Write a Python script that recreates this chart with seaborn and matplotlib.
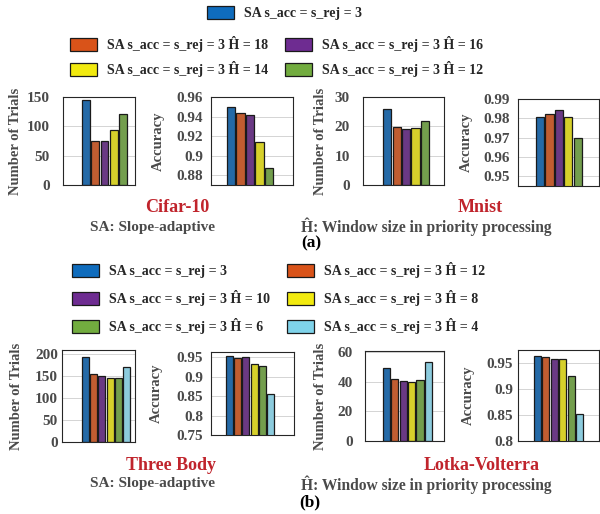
import matplotlib
matplotlib.use("Agg")
import matplotlib.pyplot as plt
import pandas as pd
import seaborn as sns
from matplotlib.patches import Patch
from matplotlib.ticker import FuncFormatter

# ---- data ----
top_series = ["SA s_acc = s_rej = 3",
              "SA s_acc = s_rej = 3 Ĥ = 18",
              "SA s_acc = s_rej = 3 Ĥ = 16",
              "SA s_acc = s_rej = 3 Ĥ = 14",
              "SA s_acc = s_rej = 3 Ĥ = 12"]
bottom_series = ["SA s_acc = s_rej = 3",
                 "SA s_acc = s_rej = 3 Ĥ = 12",
                 "SA s_acc = s_rej = 3 Ĥ = 10",
                 "SA s_acc = s_rej = 3 Ĥ = 8",
                 "SA s_acc = s_rej = 3 Ĥ = 6",
                 "SA s_acc = s_rej = 3 Ĥ = 4"]

cifar_trials = [145, 75, 75, 93, 121]
cifar_acc = [0.9494, 0.9436, 0.9415, 0.9138, 0.8872]
mnist_trials = [26.0, 19.8, 19.2, 19.3, 21.8]
mnist_acc = [0.9808, 0.9822, 0.9844, 0.9808, 0.9697]
threebody_trials = [194, 156, 150.7, 146.9, 147, 170.5]
threebody_acc = [0.9517, 0.9475, 0.9500, 0.9330, 0.9263, 0.8542]
lv_trials = [49.2, 41.8, 40.9, 39.8, 41.1, 53.5]
lv_acc = [0.9648, 0.9629, 0.9577, 0.9590, 0.9255, 0.8519]

top_colors = ["#0F6CBD", "#D95319", "#6E2C91", "#F2EA0F", "#72AC3F"]
bottom_colors = ["#0F6CBD", "#D95319", "#6E2C91", "#F2EA0F", "#72AC3F", "#7FD3EA"]

W, H = 600, 514
GRAY = "#4a4a4a"
RED = "#C0242C"

sns.set_theme(style="white")
plt.rcParams["font.family"] = ["Liberation Serif", "DejaVu Serif"]
plt.rcParams["font.weight"] = "bold"
plt.rcParams["axes.labelweight"] = "bold"

fig = plt.figure(figsize=(W / 100, H / 100), dpi=100)


def draw_panel(box, labels, values, colors, yticks, ylim, xlim, ylabel, label_x, pad):
    x0, y0, x1, y1 = box
    ax = fig.add_axes([x0 / W, 1 - y1 / H, (x1 - x0) / W, (y1 - y0) / H])
    df = pd.DataFrame({"series": labels, "value": values})
    sns.barplot(data=df, x="series", y="value", hue="series", order=labels,
                hue_order=labels, palette=dict(zip(labels, colors)), width=0.85,
                edgecolor="#1a1a1a", linewidth=0.9, legend=False, ax=ax)
    ax.set_xlim(*xlim)
    ax.set_ylim(*ylim)
    ax.set_yticks(yticks)
    ax.yaxis.set_major_formatter(FuncFormatter(lambda v, p: f"{v:g}"))
    ax.set_xticks([])
    ax.set_xlabel("")
    ax.yaxis.grid(True, color="#d4d4d4", lw=0.7)
    ax.set_axisbelow(True)
    ax.tick_params(axis="y", labelsize=11, labelcolor=GRAY, length=0, pad=pad * 0.72)
    for s in ax.spines.values():
        s.set_color("#262626")
        s.set_linewidth(0.8)
    ax.set_ylabel(ylabel, fontsize=10.5, fontweight="bold", color=GRAY)
    ax.yaxis.set_label_coords(label_x / W, 1 - (y0 + y1) / 2 / H, transform=fig.transFigure)
    return ax


draw_panel((63, 97, 135, 185), top_series, cifar_trials, top_colors,
           [0, 50, 100, 150], (0, 150), (-2.47, 5.29), "Number of Trials", 22, 13)
draw_panel((211, 97, 293, 185), top_series, cifar_acc, top_colors,
           [0.88, 0.90, 0.92, 0.94, 0.96], (0.87, 0.96), (-2.11, 6.53), "Accuracy", 165, 8)
draw_panel((363, 97, 444, 185), top_series, mnist_trials, top_colors,
           [0, 10, 20, 30], (0, 30), (-2.54, 6.01), "Number of Trials", 327, 13)
draw_panel((518, 99, 599, 186), top_series, mnist_acc, top_colors,
           [0.95, 0.96, 0.97, 0.98, 0.99], (0.945, 0.99), (-2.32, 6.22), "Accuracy", 473, 8)

draw_panel((62, 350, 135, 442), bottom_series, threebody_trials, bottom_colors,
           [0, 50, 100, 150, 200], (0, 210), (-2.86, 6.04), "Number of Trials", 23, 4)
draw_panel((211, 352, 294, 435), bottom_series, threebody_acc, bottom_colors,
           [0.75, 0.8, 0.85, 0.9, 0.95], (0.75, 0.963), (-2.25, 7.86), "Accuracy", 163, 8)
draw_panel((365, 351, 444, 441), bottom_series, lv_trials, bottom_colors,
           [0, 20, 40, 60], (0, 61), (-2.57, 6.86), "Number of Trials", 327, 12)
draw_panel((518, 350, 599, 441), bottom_series, lv_acc, bottom_colors,
           [0.8, 0.85, 0.9, 0.95], (0.8, 0.976), (-2.33, 7.33), "Accuracy", 475, 5)

# ---- legends ----
FS = 10
FPX = FS * 100 / 72
leg_kw = dict(frameon=False, borderpad=0, borderaxespad=0, fontsize=FS,
              handlelength=27 / FPX, handleheight=15 / FPX, handletextpad=0.72,
              loc="upper left")


def patch(label, color):
    return Patch(facecolor=color, edgecolor="#1a1a1a", linewidth=0.9, label=label)


top_h = [patch(l, c) for l, c in zip(top_series, top_colors)]
fig.legend(handles=[top_h[0]], bbox_to_anchor=(207 / W, 1 - 6 / H), **leg_kw)
fig.legend(handles=[top_h[1], top_h[3], top_h[2], top_h[4]], ncol=2,
           bbox_to_anchor=(70 / W, 1 - 36 / H), labelspacing=0.64,
           columnspacing=1.2, **leg_kw)

bot_h = [patch(l, c) for l, c in zip(bottom_series, bottom_colors)]
fig.legend(handles=[bot_h[0], bot_h[2], bot_h[4], bot_h[1], bot_h[3], bot_h[5]],
           ncol=2, bbox_to_anchor=(72 / W, 1 - 262 / H), labelspacing=0.86,
           columnspacing=1.2, **leg_kw)

# ---- captions ----
def caption(x, y, s, size, color):
    fig.text(x / W, 1 - y / H, s, ha="center", va="center", fontsize=size, color=color)


caption(177, 207, "Cifar-10", 13, RED)
caption(153, 227, "SA: Slope-adaptive", 11, GRAY)
caption(480, 207, "Mnist", 13, RED)
caption(426, 227, "Ĥ: Window size in priority processing", 11.2, GRAY)
caption(311, 243, "(a)", 12.5, "black")

caption(171, 465, "Three Body", 13, RED)
caption(153, 484, "SA: Slope-adaptive", 11, GRAY)
caption(482, 465, "Lotka-Volterra", 13, RED)
caption(426, 485, "Ĥ: Window size in priority processing", 11.2, GRAY)
caption(310, 502, "(b)", 12.5, "black")

fig.savefig("out.png", dpi=100)
